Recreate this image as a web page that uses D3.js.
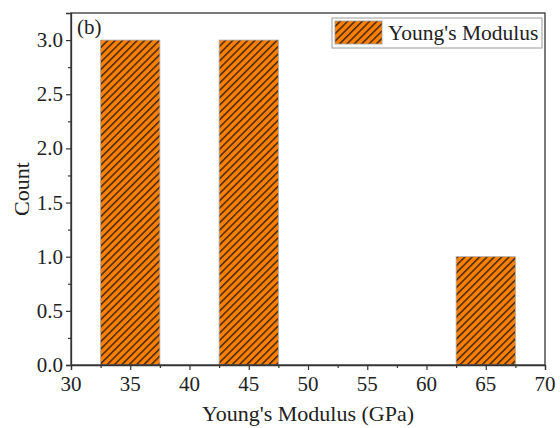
<!DOCTYPE html>
<html>
<head>
<meta charset="utf-8">
<script src="https://cdn.jsdelivr.net/npm/d3@7"></script>
<style>
  html, body { margin: 0; padding: 0; background: #fff; }
</style>
</head>
<body>
<div id="chart"></div>
<script>
// Histogram bins (GPa) and counts
const binStarts = [32.5, 42.5, 62.5];
const binEnds = [37.5, 47.5, 67.5];
const counts = [3, 3, 1];
const xTicks = [30, 35, 40, 45, 50, 55, 60, 65, 70];
const yTicks = [0, 0.5, 1.0, 1.5, 2.0, 2.5, 3.0];
const seriesName = "Young's Modulus";

const W = 560, H = 428;
const m = { left: 71, right: 15, top: 13, bottom: 63 };
const serif = "'Liberation Serif', 'Times New Roman', serif";
const ink = "#222";

const svg = d3.select("#chart").append("svg")
  .attr("width", W).attr("height", H);

// diagonal hatch fill for the bars
const defs = svg.append("defs");
const pat = defs.append("pattern")
  .attr("id", "hatch")
  .attr("patternUnits", "userSpaceOnUse")
  .attr("width", 5.2).attr("height", 5.2)
  .attr("patternTransform", "rotate(45)");
pat.append("rect").attr("width", 5.2).attr("height", 5.2).attr("fill", "#FF8000");
pat.append("line").attr("x1", 0.8).attr("y1", 0).attr("x2", 0.8).attr("y2", 5.2)
  .attr("stroke", "#111").attr("stroke-width", 1.2);

const x = d3.scaleLinear().domain([30, 70]).range([m.left, W - m.right]);
const y = d3.scaleLinear().domain([0, 3.25]).range([H - m.bottom, m.top]);

const bins = binStarts.map((s, i) => ({ x0: s, x1: binEnds[i], n: counts[i] }));

// bars
svg.append("g").selectAll("rect").data(bins).join("rect")
  .attr("x", d => x(d.x0))
  .attr("y", d => y(d.n))
  .attr("width", d => x(d.x1) - x(d.x0))
  .attr("height", d => y(0) - y(d.n))
  .attr("fill", "url(#hatch)")
  .attr("stroke", "#aaa")
  .attr("stroke-width", 0.8);

// frame
svg.append("rect")
  .attr("x", m.left).attr("y", m.top)
  .attr("width", W - m.right - m.left).attr("height", H - m.bottom - m.top)
  .attr("fill", "none").attr("stroke", "#333").attr("stroke-width", 1.3);

// tick marks (major + minor), labels set separately
const xMinor = xTicks.slice(0, -1).map(v => v + 2.5);
const yMinor = yTicks.map(v => v + 0.25).filter(v => v < 3.25);

const gx = svg.append("g").attr("transform", `translate(0,${H - m.bottom})`);
gx.call(d3.axisBottom(x).tickValues(xTicks).tickFormat("").tickSize(5));
gx.append("g").call(d3.axisBottom(x).tickValues(xMinor).tickFormat("").tickSize(3))
  .call(g => g.select(".domain").remove());
gx.append("g").selectAll("text").data(xTicks).join("text")
  .attr("x", d => x(d)).attr("y", 26)
  .attr("text-anchor", "middle")
  .attr("font-family", serif).attr("font-size", 21).attr("fill", ink)
  .text(d3.format("d"));

const gy = svg.append("g").attr("transform", `translate(${m.left},0)`);
gy.call(d3.axisLeft(y).tickValues(yTicks).tickFormat("").tickSize(5));
gy.append("g").call(d3.axisLeft(y).tickValues(yMinor).tickFormat("").tickSize(3))
  .call(g => g.select(".domain").remove());
gy.append("g").selectAll("text").data(yTicks).join("text")
  .attr("x", -8).attr("y", d => y(d) + 7)
  .attr("text-anchor", "end")
  .attr("font-family", serif).attr("font-size", 21).attr("fill", ink)
  .text(d3.format(".1f"));

svg.selectAll(".domain").attr("stroke", "#333").attr("stroke-width", 1.3);
svg.selectAll(".tick line").attr("stroke", "#333").attr("stroke-width", 1.2);

// axis titles
svg.append("text")
  .attr("x", 308).attr("y", 421)
  .attr("text-anchor", "middle")
  .attr("font-family", serif).attr("font-size", 22).attr("fill", ink)
  .text("Young's Modulus (GPa)");
svg.append("text")
  .attr("transform", `translate(29,${(m.top + H - m.bottom) / 2}) rotate(-90)`)
  .attr("text-anchor", "middle")
  .attr("font-family", serif).attr("font-size", 22).attr("fill", ink)
  .text("Count");

// panel label
svg.append("text").attr("x", 77).attr("y", 34)
  .attr("font-family", serif).attr("font-size", 21).attr("fill", ink)
  .text("(b)");

// legend
const lg = svg.append("g");
lg.append("rect").attr("x", 332).attr("y", 18).attr("width", 210).attr("height", 30)
  .attr("fill", "#fff").attr("stroke", "#999").attr("stroke-width", 1);
lg.append("rect").attr("x", 335).attr("y", 21).attr("width", 47).attr("height", 23)
  .attr("fill", "url(#hatch)").attr("stroke", "#999").attr("stroke-width", 0.8);
lg.append("text").attr("x", 388).attr("y", 40)
  .attr("font-family", serif).attr("font-size", 21.5).attr("fill", ink)
  .text(seriesName);
</script>
</body>
</html>
